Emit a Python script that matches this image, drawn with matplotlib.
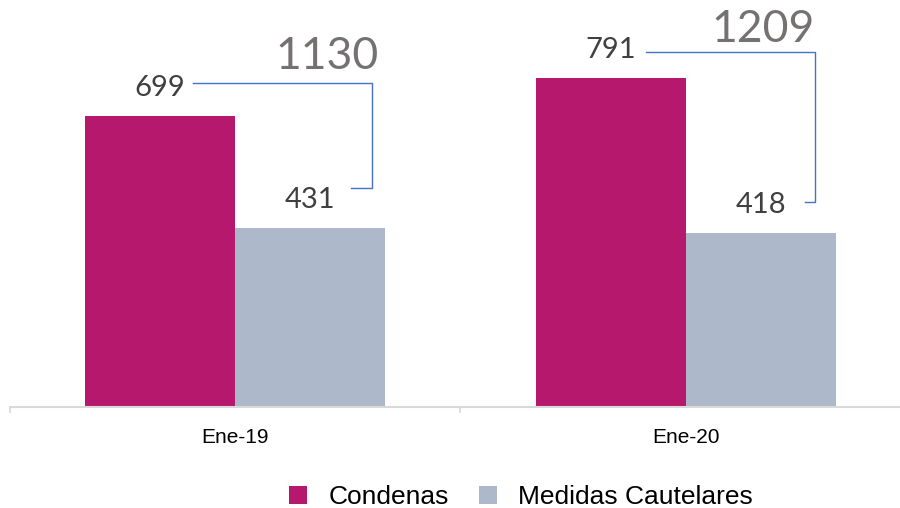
import numpy as np
import matplotlib
matplotlib.use("Agg")
import matplotlib.pyplot as plt
from matplotlib.patches import Patch
from matplotlib.lines import Line2D
from matplotlib.transforms import IdentityTransform

# ---- data ----
categories = ["Ene-19", "Ene-20"]
condenas = [699, 791]
medidas = [431, 418]
totals = [1130, 1209]
series_names = ["Condenas", "Medidas Cautelares"]

# ---- style ----
C_COND = "#B5186C"
C_MED = "#ADB9CA"
C_LABEL = "#404040"
C_TOTAL = "#757171"
C_BRACKET = "#4472C4"
C_AXIS = "#D9D9D9"
NUM_FONT = ["Lato", "DejaVu Sans"]
TXT_FONT = ["Liberation Sans", "DejaVu Sans"]

W, H = 900, 508
fig = plt.figure(figsize=(W / 100, H / 100), dpi=100)
ax = fig.add_axes([10 / W, 101 / H, 901 / W, 416.3 / H])

x = np.arange(len(categories))
bw = 1 / 3
ax.bar(x - bw / 2, condenas, bw, color=C_COND, linewidth=0)
ax.bar(x + bw / 2, medidas, bw, color=C_MED, linewidth=0)
ax.set_xlim(-0.5, len(categories) - 0.5)
ax.set_ylim(0, 1000)

for s in ("top", "left", "right"):
    ax.spines[s].set_visible(False)
ax.spines["bottom"].set_color(C_AXIS)
ax.spines["bottom"].set_linewidth(1.5)
ax.set_yticks([])
ax.set_xticks(np.arange(len(categories) + 1) - 0.5)
ax.set_xticklabels([])
ax.tick_params(axis="x", which="major", length=4.3, width=1.2, color=C_AXIS)
ax.set_xticks(x, minor=True)
ax.set_xticklabels(categories, minor=True, fontfamily=TXT_FONT, fontsize=15, color="black")
ax.tick_params(axis="x", which="minor", length=0, pad=15)

# data labels
for i in range(len(categories)):
    ax.annotate(str(condenas[i]), xy=(x[i] - bw / 2, condenas[i]), xytext=(0, 20),
                textcoords="offset pixels", ha="center", va="baseline",
                fontsize=21, family=NUM_FONT, color=C_LABEL)
    ax.annotate(str(medidas[i]), xy=(x[i] + bw / 2, medidas[i]), xytext=(0, 20),
                textcoords="offset pixels", ha="center", va="baseline",
                fontsize=21, family=NUM_FONT, color=C_LABEL)

# bracket callouts with totals (pixel offsets)
top_off = [33, 26]
start_off = [33, 35]
corner_off = [62, 54]
bot_off = [40, 31]
stub_off = [41, 44]
tot_xoff = [6, 0]
tot_yoff = [14, 10]
for i in range(len(categories)):
    cx, cy = ax.transData.transform((x[i] - bw / 2, condenas[i]))
    mx, my = ax.transData.transform((x[i] + bw / 2, medidas[i]))
    ty = cy + top_off[i]
    by = my + bot_off[i]
    kx = mx + corner_off[i]
    line = Line2D([cx + start_off[i], kx, kx, mx + stub_off[i]], [ty, ty, by, by],
                  transform=IdentityTransform(), color=C_BRACKET, linewidth=1.0)
    fig.add_artist(line)
    fig.text(kx + tot_xoff[i], ty + tot_yoff[i], str(totals[i]), transform=IdentityTransform(),
             ha="right", va="baseline", fontsize=32, family=NUM_FONT, color=C_TOTAL)

handles = [Patch(facecolor=C_COND, linewidth=0), Patch(facecolor=C_MED, linewidth=0)]
fig.legend(handles, series_names, loc="center", bbox_to_anchor=(521 / W, 11 / H), ncol=2,
           frameon=False, prop={"family": TXT_FONT, "size": 19},
           handlelength=0.68, handleheight=0.67, handletextpad=0.8, columnspacing=1.14,
           borderpad=0, borderaxespad=0)

fig.savefig("out.png", dpi=100)
